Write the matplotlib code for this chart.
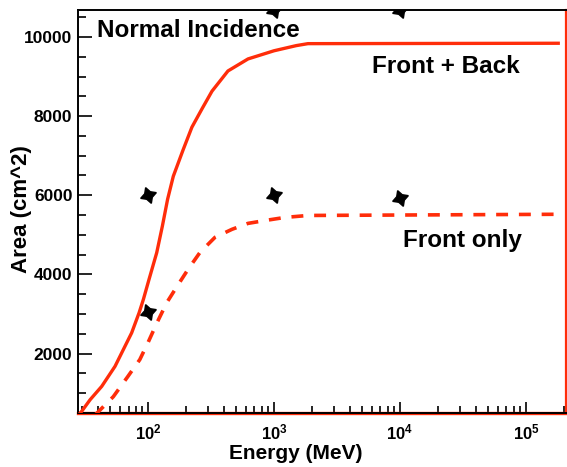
import matplotlib
matplotlib.use("Agg")
import matplotlib.pyplot as plt
from matplotlib.ticker import LogLocator, MultipleLocator, NullFormatter

RED = "#ff2d0a"

# Front + Back (solid)
energy_fb = [28, 29.7, 34.7, 42.9, 54.7, 65.6, 74.1, 84.9, 91.8, 101.8, 117.2, 130,
             143, 158.7, 190, 223, 270, 322, 431, 622, 1000, 1500, 1860, 186000]
area_fb = [450, 540, 836, 1173, 1679, 2185, 2523, 3030, 3367, 3873, 4549, 5223,
           5899, 6480, 7150, 7720, 8200, 8630, 9140, 9444, 9650, 9780, 9830, 9840]

# Front only (dashed)
energy_fo = [38, 53, 69, 86, 100, 118, 141, 170, 208, 259, 340, 464, 622, 880, 1220, 1860, 186000]
area_fo = [450, 912, 1418, 1848, 2280, 2785, 3290, 3700, 4130, 4560, 4937, 5140, 5290, 5370, 5440, 5490, 5520]

# measured points
mark_energy = [100, 100, 1000, 1000, 10000, 10000]
mark_area = [6000, 3050, 6000, 10680, 5920, 10680]

plt.rcParams["font.family"] = ["Liberation Sans", "DejaVu Sans"]
plt.rcParams["font.weight"] = "bold"
plt.rcParams["mathtext.fontset"] = "custom"
plt.rcParams["mathtext.rm"] = "Liberation Sans:bold"
plt.rcParams["mathtext.it"] = "Liberation Sans:bold"
plt.rcParams["mathtext.bf"] = "Liberation Sans:bold"

W, H = 567, 467
fig = plt.figure(figsize=(W / 100, H / 100), dpi=100)
ax = fig.add_axes([78 / W, 1 - 413 / H, (566 - 78) / W, (413 - 10) / H])

ax.plot(energy_fb, area_fb, color=RED, lw=2.4, solid_capstyle="butt", zorder=3)
ax.plot(energy_fo, area_fo, color=RED, lw=2.6, dashes=(3.3, 3.0),
        dash_capstyle="butt", zorder=3)
ax.plot(mark_energy, mark_area, ls="none", marker=(4, 1, 20), ms=12,
        color="black", zorder=4)

ax.set_xscale("log")
ax.set_xlim(27.8, 2.08e5)
ax.set_ylim(500, 10680)

ax.axhline(500, color=RED, lw=2.4, zorder=2.5, clip_on=False)

ax.xaxis.set_major_locator(LogLocator(base=10, numticks=10))
ax.xaxis.set_minor_locator(LogLocator(base=10, subs=range(2, 10), numticks=20))
ax.xaxis.set_minor_formatter(NullFormatter())
ax.yaxis.set_major_locator(MultipleLocator(2000))
ax.yaxis.set_minor_locator(MultipleLocator(500))

ax.tick_params(axis="both", which="both", direction="in", top=False, right=False,
               color="black", width=1.2)
ax.tick_params(axis="y", which="major", length=10, pad=4, labelsize=12.5)
ax.tick_params(axis="y", which="minor", length=6)
ax.tick_params(axis="x", which="major", length=8, pad=7, labelsize=12)
ax.tick_params(axis="x", which="minor", length=5)

for s in ["left", "top", "bottom"]:
    ax.spines[s].set_color("black")
    ax.spines[s].set_linewidth(1.4)
ax.spines["right"].set_color(RED)
ax.spines["right"].set_linewidth(1.6)

ax.text(0.039, 0.933, "Normal Incidence", transform=ax.transAxes,
        fontsize=17.5, fontweight="bold", va="baseline", ha="left")
ax.text(0.602, 0.8437, "Front + Back", transform=ax.transAxes,
        fontsize=17.5, fontweight="bold", va="baseline", ha="left")
ax.text(0.666, 0.412, "Front only", transform=ax.transAxes,
        fontsize=17.5, fontweight="bold", va="baseline", ha="left")

fig.text(22 / W, 1 - 209 / H, "Area (cm^2)", rotation=90, fontsize=16,
         fontweight="bold", ha="center", va="center")
fig.text(296 / W, 1 - 459 / H, "Energy (MeV)", fontsize=15,
         fontweight="bold", ha="center", va="baseline")

fig.savefig("out.png", dpi=100)
